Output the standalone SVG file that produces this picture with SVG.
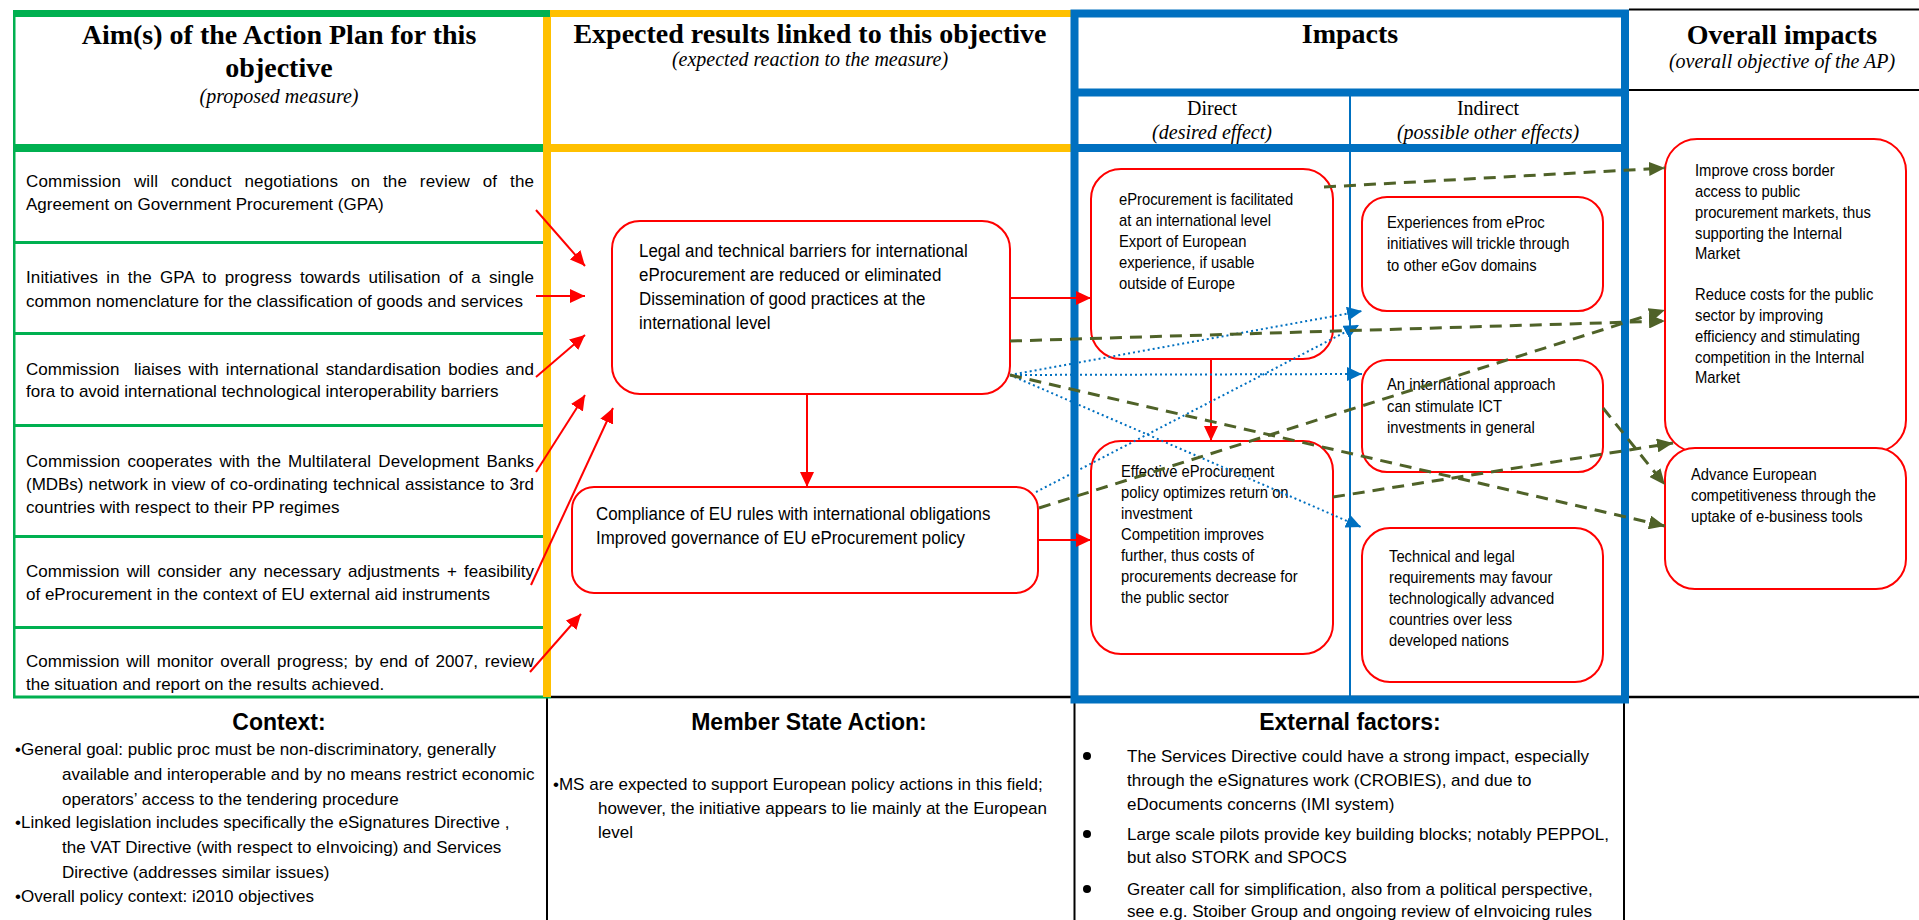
<svg xmlns="http://www.w3.org/2000/svg" width="1919" height="920" viewBox="0 0 1919 920">
<style>
.hd{font-family:"Liberation Serif","Times New Roman",serif;font-weight:bold;font-size:28px;text-anchor:middle;fill:#000}
.sub{font-family:"Liberation Serif","Times New Roman",serif;font-style:italic;font-size:20px;text-anchor:middle;fill:#000}
.col{font-family:"Liberation Serif","Times New Roman",serif;font-size:20px;text-anchor:middle;fill:#000}
.t{font-family:"Liberation Sans",Arial,sans-serif;font-size:17px;fill:#000}
.m{font-family:"Liberation Sans",Arial,sans-serif;font-size:19px;fill:#000}
.ft{font-family:"Liberation Sans",Arial,sans-serif;font-weight:bold;font-size:23px;text-anchor:middle;fill:#000}
.box{fill:#fff;stroke:#FF0000;stroke-width:2}
.ra{stroke:#FF0000;stroke-width:2;fill:none;marker-end:url(#ar)}
.ba{stroke:#0070C0;stroke-width:2;stroke-dasharray:2 3;fill:none;marker-end:url(#ab)}
.ga{stroke:#4F6228;stroke-width:3;stroke-dasharray:12 8;fill:none;marker-end:url(#ag)}
.gr{fill:#00B050}
.ye{fill:#FFC000}
.bk{stroke:#000;stroke-width:2;fill:none}
</style>
<defs>
<marker id="ar" markerUnits="userSpaceOnUse" markerWidth="15" markerHeight="14" refX="15" refY="7" orient="auto"><path d="M0,0 L15,7 L0,14 z" fill="#FF0000"/></marker>
<marker id="ab" markerUnits="userSpaceOnUse" markerWidth="15" markerHeight="14" refX="15" refY="7" orient="auto"><path d="M0,0 L15,7 L0,14 z" fill="#0070C0"/></marker>
<marker id="ag" markerUnits="userSpaceOnUse" markerWidth="16" markerHeight="14" refX="16" refY="7" orient="auto"><path d="M0,0 L16,7 L0,14 z" fill="#4F6228"/></marker>
</defs>
<rect x="0" y="0" width="1919" height="920" fill="#fff"/>
<g id="grid">
<line class="bk" x1="551" y1="697" x2="1919" y2="697" style="stroke-width:2.5"/>
<line class="bk" x1="547" y1="697" x2="547" y2="920"/>
<line class="bk" x1="1074.5" y1="700" x2="1074.5" y2="920"/>
<line class="bk" x1="1624" y1="700" x2="1624" y2="920"/>
<line class="bk" x1="1629" y1="9.5" x2="1919" y2="9.5"/>
<line class="bk" x1="1629" y1="90" x2="1919" y2="90"/>
<rect class="gr" x="13" y="10" width="537" height="7"/>
<rect class="gr" x="13" y="10" width="2.5" height="688"/>
<rect class="gr" x="13" y="144" width="531" height="8"/>
<rect class="gr" x="13" y="241" width="531" height="3"/>
<rect class="gr" x="13" y="332" width="531" height="3"/>
<rect class="gr" x="13" y="424" width="531" height="3"/>
<rect class="gr" x="13" y="535" width="531" height="3"/>
<rect class="gr" x="13" y="626" width="531" height="3"/>
<rect class="gr" x="13" y="695.5" width="538" height="3"/>
<rect class="ye" x="550" y="10" width="521" height="7"/>
<rect class="ye" x="543" y="17" width="8" height="680"/>
<rect class="ye" x="551" y="144" width="520" height="8"/>
<rect x="1074.5" y="13.5" width="550.5" height="686" fill="none" stroke="#0070C0" stroke-width="8"/>
<line x1="1071" y1="92.5" x2="1629" y2="92.5" stroke="#0070C0" stroke-width="8"/>
<line x1="1071" y1="148" x2="1629" y2="148" stroke="#0070C0" stroke-width="8"/>
<line x1="1350" y1="96" x2="1350" y2="699" stroke="#0070C0" stroke-width="2"/>
</g>
<g id="headers">
<text class="hd" x="279" y="44">Aim(s) of the Action Plan for this</text>
<text class="hd" x="279" y="77">objective</text>
<text class="sub" x="279" y="103">(proposed measure)</text>
<text class="hd" x="810" y="43">Expected results linked to this objective</text>
<text class="sub" x="810" y="66">(expected reaction to the measure)</text>
<text class="hd" x="1350" y="43">Impacts</text>
<text class="col" x="1212" y="115">Direct</text>
<text class="sub" x="1212" y="139">(desired effect)</text>
<text class="col" x="1488" y="115">Indirect</text>
<text class="sub" x="1488" y="139">(possible other effects)</text>
<text class="hd" x="1782" y="44">Overall impacts</text>
<text class="sub" x="1782" y="68">(overall objective of the AP)</text>
</g>
<g id="aims">
<text class="t" x="26" y="187" textLength="508" lengthAdjust="spacing" style="word-spacing:7.9px">Commission will conduct negotiations on the review of the</text>
<text class="t" x="26" y="210">Agreement on Government Procurement (GPA)</text>
<text class="t" x="26" y="283" textLength="508" lengthAdjust="spacing" style="word-spacing:3.3px">Initiatives in the GPA to progress towards utilisation of a single</text>
<text class="t" x="26" y="307">common nomenclature for the classification of goods and services</text>
<text class="t" x="26" y="375" textLength="508" lengthAdjust="spacing" style="word-spacing:2.5px" xml:space="preserve">Commission  liaises with international standardisation bodies and</text>
<text class="t" x="26" y="397">fora to avoid international technological interoperability barriers</text>
<text class="t" x="26" y="467" textLength="508" lengthAdjust="spacing" style="word-spacing:2.3px">Commission cooperates with the Multilateral Development Banks</text>
<text class="t" x="26" y="490" textLength="508" lengthAdjust="spacing" style="word-spacing:0.5px">(MDBs) network in view of co-ordinating technical assistance to 3rd</text>
<text class="t" x="26" y="513">countries with respect to their PP regimes</text>
<text class="t" x="26" y="577" textLength="508" lengthAdjust="spacing" style="word-spacing:2.4px">Commission will consider any necessary adjustments + feasibility</text>
<text class="t" x="26" y="600">of eProcurement in the context of EU external aid instruments</text>
<text class="t" x="26" y="667" textLength="508" lengthAdjust="spacing" style="word-spacing:2px">Commission will monitor overall progress; by end of 2007, review</text>
<text class="t" x="26" y="690">the situation and report on the results achieved.</text>
</g>
<g id="n-box1">
<rect class="box" x="612" y="221" width="398" height="173" rx="28"/>
<g transform="translate(639 0) scale(0.89 1)">
<text class="m" x="0" y="257">Legal and technical barriers for international</text>
<text class="m" x="0" y="281">eProcurement are reduced or eliminated</text>
<text class="m" x="0" y="305">Dissemination of good practices at the</text>
<text class="m" x="0" y="329">international level</text>
</g>
</g>
<g id="n-box2">
<rect class="box" x="572" y="487" width="466" height="106" rx="22"/>
<g transform="translate(596 0) scale(0.89 1)">
<text class="m" x="0" y="520">Compliance of EU rules with international obligations</text>
<text class="m" x="0" y="544">Improved governance of EU eProcurement policy</text>
</g>
</g>
<g id="n-direct1">
<rect class="box" x="1091" y="169" width="242" height="190" rx="30"/>
<g transform="translate(1119 0) scale(0.87 1)">
<text class="t" x="0" y="205">eProcurement is facilitated</text>
<text class="t" x="0" y="226">at an international level</text>
<text class="t" x="0" y="247">Export of European</text>
<text class="t" x="0" y="268">experience, if usable</text>
<text class="t" x="0" y="289">outside of Europe</text>
</g>
</g>
<g id="n-direct2">
<rect class="box" x="1091" y="441" width="242" height="213" rx="30"/>
<g transform="translate(1121 0) scale(0.87 1)">
<text class="t" x="0" y="477">Effective eProcurement</text>
<text class="t" x="0" y="498">policy optimizes return on</text>
<text class="t" x="0" y="519">investment</text>
<text class="t" x="0" y="540">Competition improves</text>
<text class="t" x="0" y="561">further, thus costs of</text>
<text class="t" x="0" y="582">procurements decrease for</text>
<text class="t" x="0" y="603">the public sector</text>
</g>
</g>
<g id="n-indirect1">
<rect class="box" x="1362" y="197" width="241" height="114" rx="25"/>
<g transform="translate(1387 0) scale(0.87 1)">
<text class="t" x="0" y="228">Experiences from eProc</text>
<text class="t" x="0" y="249">initiatives will trickle through</text>
<text class="t" x="0" y="271">to other eGov domains</text>
</g>
</g>
<g id="n-indirect2">
<rect class="box" x="1362" y="360" width="241" height="112" rx="25"/>
<g transform="translate(1387 0) scale(0.87 1)">
<text class="t" x="0" y="390">An international approach</text>
<text class="t" x="0" y="412">can stimulate ICT</text>
<text class="t" x="0" y="433">investments in general</text>
</g>
</g>
<g id="n-indirect3">
<rect class="box" x="1362" y="528" width="241" height="154" rx="28"/>
<g transform="translate(1389 0) scale(0.87 1)">
<text class="t" x="0" y="562">Technical and legal</text>
<text class="t" x="0" y="583">requirements may favour</text>
<text class="t" x="0" y="604">technologically advanced</text>
<text class="t" x="0" y="625">countries over less</text>
<text class="t" x="0" y="646">developed nations</text>
</g>
</g>
<g id="n-overall1">
<rect class="box" x="1665" y="139" width="241" height="313" rx="32"/>
<g transform="translate(1695 0) scale(0.87 1)">
<text class="t" x="0" y="176">Improve cross border</text>
<text class="t" x="0" y="197">access to public</text>
<text class="t" x="0" y="218">procurement markets, thus</text>
<text class="t" x="0" y="239">supporting the Internal</text>
<text class="t" x="0" y="259">Market</text>
<text class="t" x="0" y="300">Reduce costs for the public</text>
<text class="t" x="0" y="321">sector by improving</text>
<text class="t" x="0" y="342">efficiency and stimulating</text>
<text class="t" x="0" y="363">competition in the Internal</text>
<text class="t" x="0" y="383">Market</text>
</g>
</g>
<g id="n-overall2">
<rect class="box" x="1665" y="448" width="241" height="141" rx="30"/>
<g transform="translate(1691 0) scale(0.87 1)">
<text class="t" x="0" y="480">Advance European</text>
<text class="t" x="0" y="501">competitiveness through the</text>
<text class="t" x="0" y="522">uptake of e-business tools</text>
</g>
</g>
<g id="connectors">
<path class="ra" d="M536,210 L585,266"/>
<path class="ra" d="M536,296 L585,296"/>
<path class="ra" d="M536,377 L585,335"/>
<path class="ra" d="M536,472 L585,395"/>
<path class="ra" d="M531,585 L613,408"/>
<path class="ra" d="M530,672 L581,614"/>
<path class="ra" d="M807,394 L807,487"/>
<path class="ra" d="M1010,298 L1091,298"/>
<path class="ra" d="M1038,540 L1091,540"/>
<path class="ra" d="M1211,359 L1211,441"/>
<path class="ba" d="M1010,375 L1362,311"/>
<path class="ba" d="M1036,492 L1359,325"/>
<path class="ba" d="M1010,375 L1362,374"/>
<path class="ba" d="M1010,375 L1361,527"/>
<path class="ga" d="M1324,187 L1665,168"/>
<path class="ga" d="M1010,341 L1665,321"/>
<path class="ga" d="M1010,375 L1665,526"/>
<path class="ga" d="M1039,508 L1665,310"/>
<path class="ga" d="M1333,497 L1673,443"/>
<path class="ga" d="M1603,408 L1665,485"/>
</g>
<g id="footer">
<text class="ft" x="279" y="730">Context:</text>
<text class="t" x="15" y="755">•General goal: public proc must be non-discriminatory, generally</text>
<text class="t" x="62" y="780">available and interoperable and by no means restrict economic</text>
<text class="t" x="62" y="805">operators’ access to the tendering procedure</text>
<text class="t" x="15" y="828">•Linked legislation includes specifically the eSignatures Directive ,</text>
<text class="t" x="62" y="853">the VAT Directive (with respect to eInvoicing) and Services</text>
<text class="t" x="62" y="878">Directive (addresses similar issues)</text>
<text class="t" x="15" y="902">•Overall policy context: i2010 objectives</text>
<text class="ft" x="809" y="730">Member State Action:</text>
<text class="t" x="553" y="790">•MS are expected to support European policy actions in this field;</text>
<text class="t" x="598" y="814">however, the initiative appears to lie mainly at the European</text>
<text class="t" x="598" y="838">level</text>
<text class="ft" x="1350" y="730">External factors:</text>
<circle cx="1087" cy="756" r="4" fill="#000"/>
<circle cx="1087" cy="834" r="4" fill="#000"/>
<circle cx="1087" cy="889" r="4" fill="#000"/>
<text class="t" x="1127" y="762">The Services Directive could have a strong impact, especially</text>
<text class="t" x="1127" y="786">through the eSignatures work (CROBIES), and due to</text>
<text class="t" x="1127" y="810">eDocuments concerns (IMI system)</text>
<text class="t" x="1127" y="840">Large scale pilots provide key building blocks; notably PEPPOL,</text>
<text class="t" x="1127" y="863">but also STORK and SPOCS</text>
<text class="t" x="1127" y="895">Greater call for simplification, also from a political perspective,</text>
<text class="t" x="1127" y="917">see e.g. Stoiber Group and ongoing review of eInvoicing rules</text>
</g>
</svg>
